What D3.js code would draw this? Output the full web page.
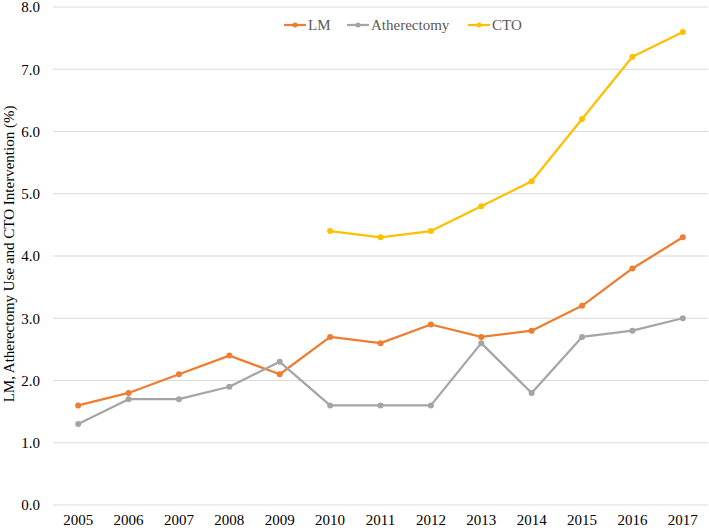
<!DOCTYPE html>
<html><head><meta charset="utf-8">
<script src="https://cdn.jsdelivr.net/npm/d3@7"></script>
<style>body{margin:0;background:#fff}svg{display:block}text{font-family:"Liberation Serif","Times New Roman",serif}</style>
</head><body><svg id="c" width="709" height="530"></svg>
<script>
const years = ["2005","2006","2007","2008","2009","2010","2011","2012","2013","2014","2015","2016","2017"];
const lmValues = [1.6,1.8,2.1,2.4,2.1,2.7,2.6,2.9,2.7,2.8,3.2,3.8,4.3];
const atherValues = [1.3,1.7,1.7,1.9,2.3,1.6,1.6,1.6,2.6,1.8,2.7,2.8,3.0];
const ctoValues = [null,null,null,null,null,4.4,4.3,4.4,4.8,5.2,6.2,7.2,7.6];
const yTicks = [0,1,2,3,4,5,6,7,8];
const seriesNames = ["LM","Atherectomy","CTO"];
const seriesColors = ["#ED7D31","#A5A5A5","#FFC000"];

const series = [lmValues, atherValues, ctoValues].map((v,i)=>({name:seriesNames[i],color:seriesColors[i],values:v}));

const svg = d3.select("#c");
const x = d3.scaleBand().domain(years).range([53,708]);
const y = d3.scaleLinear().domain([0,8]).range([505,7]);

// gridlines
svg.append("g").selectAll("line").data(yTicks).join("line")
  .attr("x1",53).attr("x2",708)
  .attr("y1",d=>y(d)).attr("y2",d=>y(d))
  .attr("stroke","#d9d9d9").attr("stroke-width",1);

// y axis labels
const yAxis = d3.axisLeft(y).tickValues(yTicks).tickFormat(d3.format(".1f")).tickSize(0).tickPadding(0);
const gy = svg.append("g").attr("transform","translate(40,0)").call(yAxis);
gy.select(".domain").remove();
gy.selectAll("text").attr("font-size",15).attr("fill","#000").attr("dy","0.32em");

// x axis labels
const xAxis = d3.axisBottom(x).tickSize(0).tickPadding(0);
const gx = svg.append("g").attr("transform","translate(0,514)").call(xAxis);
gx.select(".domain").remove();
gx.selectAll("text").attr("font-size",15).attr("fill","#000").attr("dy","0.71em");

// axis title
svg.append("text")
  .attr("transform","translate(14,254) rotate(-90)")
  .attr("text-anchor","middle")
  .attr("font-size",15).attr("fill","#000")
  .text("LM, Atherectomy Use and CTO Intervention (%)");

const line = d3.line().defined(d=>d!=null)
  .x((d,i)=>x(years[i])+x.bandwidth()/2).y(d=>y(d));

series.forEach(s=>{
  svg.append("path").datum(s.values).attr("d",line)
    .attr("fill","none").attr("stroke",s.color).attr("stroke-width",2.25).attr("stroke-linejoin","round");
  svg.append("g").selectAll("circle")
    .data(s.values.map((v,i)=>({v,i})).filter(d=>d.v!=null))
    .join("circle")
    .attr("cx",d=>x(years[d.i])+x.bandwidth()/2).attr("cy",d=>y(d.v))
    .attr("r",3).attr("fill",s.color);
});

// legend
const legendX = [284,347,468];
const lg = svg.append("g");
series.forEach((s,i)=>{
  const g = lg.append("g").attr("transform",`translate(${legendX[i]},25)`);
  g.append("line").attr("x1",0).attr("x2",22).attr("y1",0).attr("y2",0).attr("stroke",s.color).attr("stroke-width",2.25);
  g.append("circle").attr("cx",11).attr("cy",0).attr("r",2.5).attr("fill",s.color);
  g.append("text").attr("x",24).attr("y",0).attr("dy","0.35em").attr("font-size",15).attr("fill","#595959").text(s.name);
});
</script></body></html>
